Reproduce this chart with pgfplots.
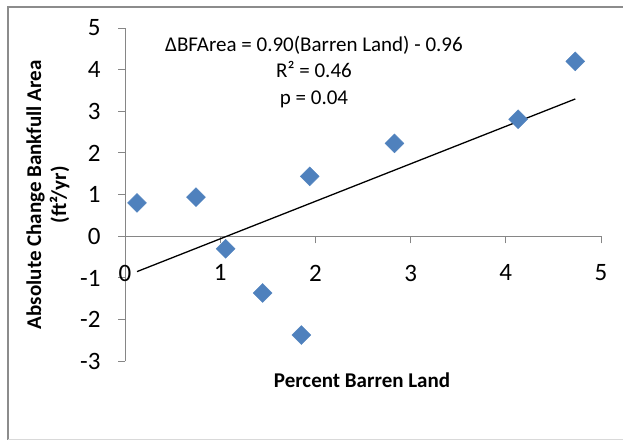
\documentclass[border=0pt]{standalone}
\usepackage{pgfplots}
\pgfplotsset{compat=1.18}
\usepackage{fontspec}
\setmainfont{Carlito}
\definecolor{axisgray}{HTML}{868686}
\definecolor{markblue}{HTML}{4F81BD}
\definecolor{bordergray}{HTML}{8C8C8C}
\begin{document}
\begin{tikzpicture}
\useasboundingbox (0pt,0pt) rectangle (623pt,441pt);
\draw[bordergray, line width=1.2pt] (8pt,441pt-440pt) -- (8pt,441pt-7pt) -- (640pt,441pt-7pt);
\draw[black!15, line width=1pt] (8pt,441pt-440pt) -- (640pt,441pt-440pt);
\begin{axis}[
  at={(125pt,79.7pt)}, anchor=south west,
  scale only axis, width=476pt, height=333.3pt,
  xmin=0, xmax=5, ymin=-3, ymax=5,
  axis x line=middle, axis y line=left,
  hide obscured x ticks=false, hide obscured y ticks=false,
  axis line style={axisgray, line width=1pt, -},
  xtick={0,1,2,3,4,5}, ytick={-3,-2,-1,0,1,2,3,4,5},
  minor tick num=0,
  tick align=outside, major tick length=7pt,
  tick style={axisgray, line width=1pt},
  /pgf/number format/assume math mode=true,
  ticklabel style={font=\fontsize{25}{30}\selectfont},
  xticklabel style={anchor=north, yshift=-18pt},
  yticklabel style={anchor=east, xshift=-14pt},
  xlabel={\textbf{Percent Barren Land}},
  ylabel={\textbf{Absolute Change Bankfull Area}\\\textbf{(ft²/yr)}},
  xlabel style={at={(axis description cs:0.498,-0.056)}, anchor=center, font=\fontsize{21}{25}\selectfont},
  ylabel style={at={(axis description cs:-0.162,0.5)}, anchor=center, rotate=0, align=center, font=\fontsize{21}{25}\selectfont},
  clip=false,
]
\addplot[only marks, mark=square*, mark size=6.7pt, mark options={rotate=45, fill=markblue, draw=markblue}]
  coordinates {
  (0.126,0.80) (0.745,0.94) (1.057,-0.30) (1.446,-1.36) (1.852,-2.37)
  (1.94,1.44) (2.83,2.23) (4.13,2.81) (4.73,4.20)
  };
\addplot[black, line width=1.3pt] coordinates {(0.126,-0.847) (4.73,3.297)};
\end{axis}
\node[align=center, font=\fontsize{21}{26.5}\selectfont] at (314pt,441pt-72pt)
  {ΔBFArea = 0.90(Barren Land) - 0.96\\R² = 0.46\\p = 0.04};
\end{tikzpicture}
\end{document}
